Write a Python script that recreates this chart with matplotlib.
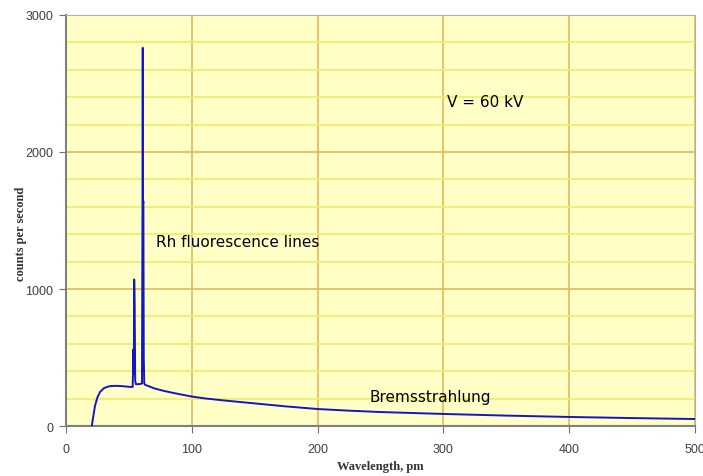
import numpy as np
import matplotlib.pyplot as plt
from matplotlib.ticker import MultipleLocator

# spectrum (wavelength in pm, counts per second)
wavelength = [20.5, 21.5, 23, 25, 27, 30, 33, 36, 40, 45, 50, 53.0, 53.6, 53.9, 54.2,
              54.6, 55.0, 55.6, 57, 59, 60.4, 60.8, 61.0, 61.2, 61.5, 61.8, 62.2,
              63, 66, 70, 77, 85, 100, 110, 125, 150, 175, 200, 225, 250, 300, 350,
              400, 450, 500]
counts = [0, 60, 146, 210, 248, 275, 287, 292, 293, 291, 286, 285, 560, 380, 1070,
          850, 330, 305, 305, 307, 310, 1640, 2760, 1620, 1640, 500, 310,
          300, 290, 275, 258, 242, 215, 202, 187, 165, 143, 124, 112, 102, 88, 76,
          66, 58, 51]

xticks = [0, 100, 200, 300, 400, 500]
yticks = [0, 1000, 2000, 3000]

fig = plt.figure(figsize=(7.03, 4.77), dpi=100)
ax = fig.add_axes([0.0939, 0.1048, 0.8947, 0.8617])
ax.set_facecolor('#ffffc6')

ax.plot(wavelength, counts, color='#1414c8', lw=1.4, zorder=3)

ax.set_xlim(0, 500)
ax.set_ylim(0, 3000)
ax.set_xticks(xticks)
ax.set_yticks(yticks)
ax.yaxis.set_minor_locator(MultipleLocator(200))

ax.grid(which='major', axis='both', color='#e2b75a', lw=1.2, zorder=1)
ax.grid(which='minor', axis='y', color='#f2ea6a', lw=1.2, zorder=1)
ax.tick_params(which='minor', length=0)
ax.tick_params(which='major', direction='out', length=5, color='#707070',
               labelsize=9, labelcolor='#404040')
ax.tick_params(axis='x', pad=7)
ax.tick_params(axis='y', pad=4)
for lab in ax.get_xticklabels() + ax.get_yticklabels():
    lab.set_fontfamily('Liberation Sans')

for side in ['left', 'bottom']:
    ax.spines[side].set_color('#808080')
    ax.spines[side].set_linewidth(1.5)
for side in ['top', 'right']:
    ax.spines[side].set_color('#b0b0b0')
    ax.spines[side].set_linewidth(0.8)

ax.set_xlabel('Wavelength, pm', family='Liberation Serif', fontsize=9,
              fontweight='bold', color='#333333')
ax.set_ylabel('counts per second', family='Liberation Serif', fontsize=9,
              fontweight='bold', color='#333333')
ax.xaxis.set_label_coords(0.5, -0.083)
ax.yaxis.set_label_coords(-0.062, 0.47)

ax.text(303, 2370, 'V = 60 kV', fontsize=11, va='center', ha='left', family='DejaVu Sans')
ax.text(71.5, 1350, 'Rh fluorescence lines', fontsize=11, va='center', ha='left', family='DejaVu Sans')
ax.text(241, 212, 'Bremsstrahlung', fontsize=11, va='center', ha='left', family='DejaVu Sans')

fig.savefig('out.png', dpi=100)
